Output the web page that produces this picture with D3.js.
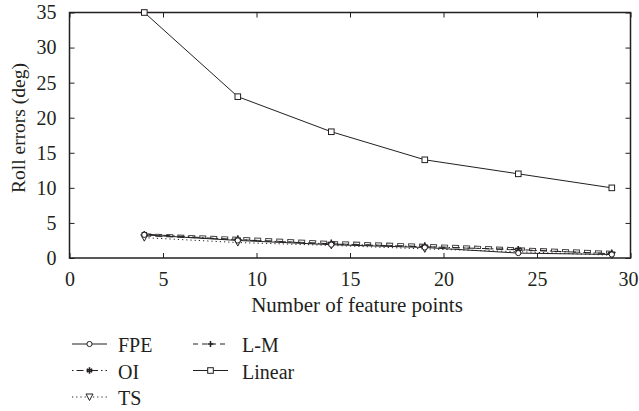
<!DOCTYPE html>
<html>
<head>
<meta charset="utf-8">
<script src="https://cdn.jsdelivr.net/npm/d3@7"></script>
</head>
<body style="margin:0; font-family: 'Liberation Serif', serif">
<script>
var featurePoints = [4, 9, 14, 19, 24, 29];
var fpe    = [3.3, 2.5, 1.9, 1.5, 0.7, 0.5];
var oi     = [3.4, 2.6, 2.0, 1.6, 1.2, 0.6];
var ts     = [2.9, 2.2, 1.8, 1.3, 0.9, 0.4];
var lm     = [3.3, 2.8, 2.2, 1.8, 1.3, 0.8];
var linear = [35, 23, 18, 14, 12, 10];
var xTicks = [0, 5, 10, 15, 20, 25, 30];
var yTicks = [0, 5, 10, 15, 20, 25, 30, 35];

var width = 639, height = 411;
var margin = {top: 12.5, left: 69.5, right: 8.5, bottom: 153};
var plotW = width - margin.left - margin.right;
var plotH = height - margin.top - margin.bottom;
var ink = "#231f20";

var svg = d3.select("body").append("svg")
    .attr("width", width)
    .attr("height", height)
    .style("font-family", "Liberation Serif");

var g = svg.append("g")
    .attr("transform", "translate(" + margin.left + "," + margin.top + ")");

var x = d3.scaleLinear().domain([0, 30]).range([0, plotW]);
var y = d3.scaleLinear().domain([0, 35]).range([plotH, 0]);

function serif(sel, size) {
    sel.style("font-family", "Liberation Serif").style("font-size", (size || 20) + "px").attr("fill", ink);
}

// axes, ticks pointing inward
function styleAxis(sel) {
    sel.attr("font-family", null).attr("font-size", null);
    sel.selectAll(".domain").remove();
    sel.selectAll("line").attr("stroke", ink).attr("stroke-width", 1);
    sel.selectAll("text").call(serif);
}
var xAxisG = g.append("g").attr("transform", "translate(0," + plotH + ")")
    .call(d3.axisBottom(x).tickValues(xTicks).tickSize(-5).tickPadding(14))
    .call(styleAxis);
// last label sits at the page edge: keep it inside
xAxisG.selectAll(".tick text")
    .filter(function (d) { return d === 30; })
    .attr("text-anchor", "end")
    .attr("x", width - margin.left - plotW - 1);
g.append("g")
    .call(d3.axisLeft(y).tickValues(yTicks).tickSize(-5).tickPadding(13))
    .call(styleAxis);
g.append("g")
    .call(d3.axisTop(x).tickValues(xTicks).tickSize(-5).tickFormat(""))
    .call(styleAxis);
g.append("g").attr("transform", "translate(" + plotW + ",0)")
    .call(d3.axisRight(y).tickValues(yTicks).tickSize(-5).tickFormat(""))
    .call(styleAxis);

g.append("rect")
    .attr("width", plotW)
    .attr("height", plotH)
    .attr("fill", "none")
    .attr("stroke", ink)
    .attr("stroke-width", 1.5);

var series = [
    {name: "FPE", values: fpe, dash: null, marker: "circle"},
    {name: "OI", values: oi, dash: "1.5,3,7,3", marker: "star"},
    {name: "TS", values: ts, dash: "1.2,3", marker: "triangle"},
    {name: "L-M", values: lm, dash: "7,4", marker: "plus", hollow: true},
    {name: "Linear", values: linear, dash: null, marker: "square"}
];

var line = d3.line()
    .x(function (d, i) { return x(featurePoints[i]); })
    .y(function (d) { return y(d); });

function drawMarker(sel, type, cx, cy) {
    if (type === "circle") {
        sel.append("circle").attr("cx", cx).attr("cy", cy).attr("r", 2.6)
            .attr("fill", "#fff").attr("stroke", ink).attr("stroke-width", 1);
    } else if (type === "square") {
        sel.append("rect").attr("x", cx - 2.8).attr("y", cy - 2.8).attr("width", 5.6).attr("height", 5.6)
            .attr("fill", "#fff").attr("stroke", ink).attr("stroke-width", 1);
    } else if (type === "triangle") {
        sel.append("path")
            .attr("d", "M" + (cx - 3.5) + "," + (cy - 3) + "L" + (cx + 3.5) + "," + (cy - 3) + "L" + cx + "," + (cy + 3.5) + "Z")
            .attr("fill", "#fff").attr("stroke", ink).attr("stroke-width", 1);
    } else if (type === "star") {
        sel.append("path").attr("d", d3.symbol().type(d3.symbolAsterisk).size(28)())
            .attr("transform", "translate(" + cx + "," + cy + ")")
            .attr("fill", "none").attr("stroke", ink).attr("stroke-width", 1.6);
    } else if (type === "plus") {
        sel.append("path")
            .attr("d", "M" + (cx - 3) + "," + cy + "H" + (cx + 3) + "M" + cx + "," + (cy - 3) + "V" + (cy + 3))
            .attr("stroke", ink).attr("stroke-width", 1.5);
    }
}

function drawLine(sel, s, d) {
    if (s.hollow) {
        // thick dashes drawn as outlined boxes, like the print
        sel.append("path").attr("d", d).attr("fill", "none")
            .attr("stroke", "#444").attr("stroke-width", 3.2).attr("stroke-dasharray", s.dash);
        sel.append("path").attr("d", d).attr("fill", "none")
            .attr("stroke", "#fff").attr("stroke-width", 1.2).attr("stroke-dasharray", "5,6")
            .attr("stroke-dashoffset", -1);
    } else {
        sel.append("path").attr("d", d).attr("fill", "none")
            .attr("stroke", ink).attr("stroke-width", 1).attr("stroke-dasharray", s.dash);
    }
}

// L-M first (underneath), then the rest
var order = [3, 2, 1, 0, 4];
order.forEach(function (k) {
    var s = series[k];
    drawLine(g, s, line(s.values));
});
order.forEach(function (k) {
    var s = series[k];
    var mg = g.append("g");
    s.values.forEach(function (v, i) {
        drawMarker(mg, s.marker, x(featurePoints[i]), y(v));
    });
});

// axis titles
svg.append("text")
    .attr("x", 357)
    .attr("y", 312)
    .attr("text-anchor", "middle")
    .call(serif, 21)
    .text("Number of feature points");

svg.append("text")
    .attr("transform", "translate(25,128) rotate(-90)")
    .attr("text-anchor", "middle")
    .call(serif, 19.5)
    .text("Roll errors (deg)");

// legend
var legendPos = [
    {col: 0, row: 0}, {col: 0, row: 1}, {col: 0, row: 2}, {col: 1, row: 0}, {col: 1, row: 1}
];
var colLine = [72, 193], colText = [118, 242];
var legend = svg.append("g");
series.forEach(function (s, i) {
    var c = legendPos[i].col;
    var lx = colLine[c];
    var ly = 344 + legendPos[i].row * 26.5;
    legend.append("line")
        .attr("x1", lx).attr("x2", lx + 35)
        .attr("y1", ly).attr("y2", ly)
        .attr("stroke", ink)
        .attr("stroke-width", 1)
        .attr("stroke-dasharray", s.dash ? (s.name === "L-M" ? "5,4" : s.dash) : null);
    drawMarker(legend, s.marker, lx + 17.5, ly);
    legend.append("text")
        .attr("x", colText[c])
        .attr("y", ly + 8)
        .call(serif)
        .text(s.name);
});
</script>
</body>
</html>
